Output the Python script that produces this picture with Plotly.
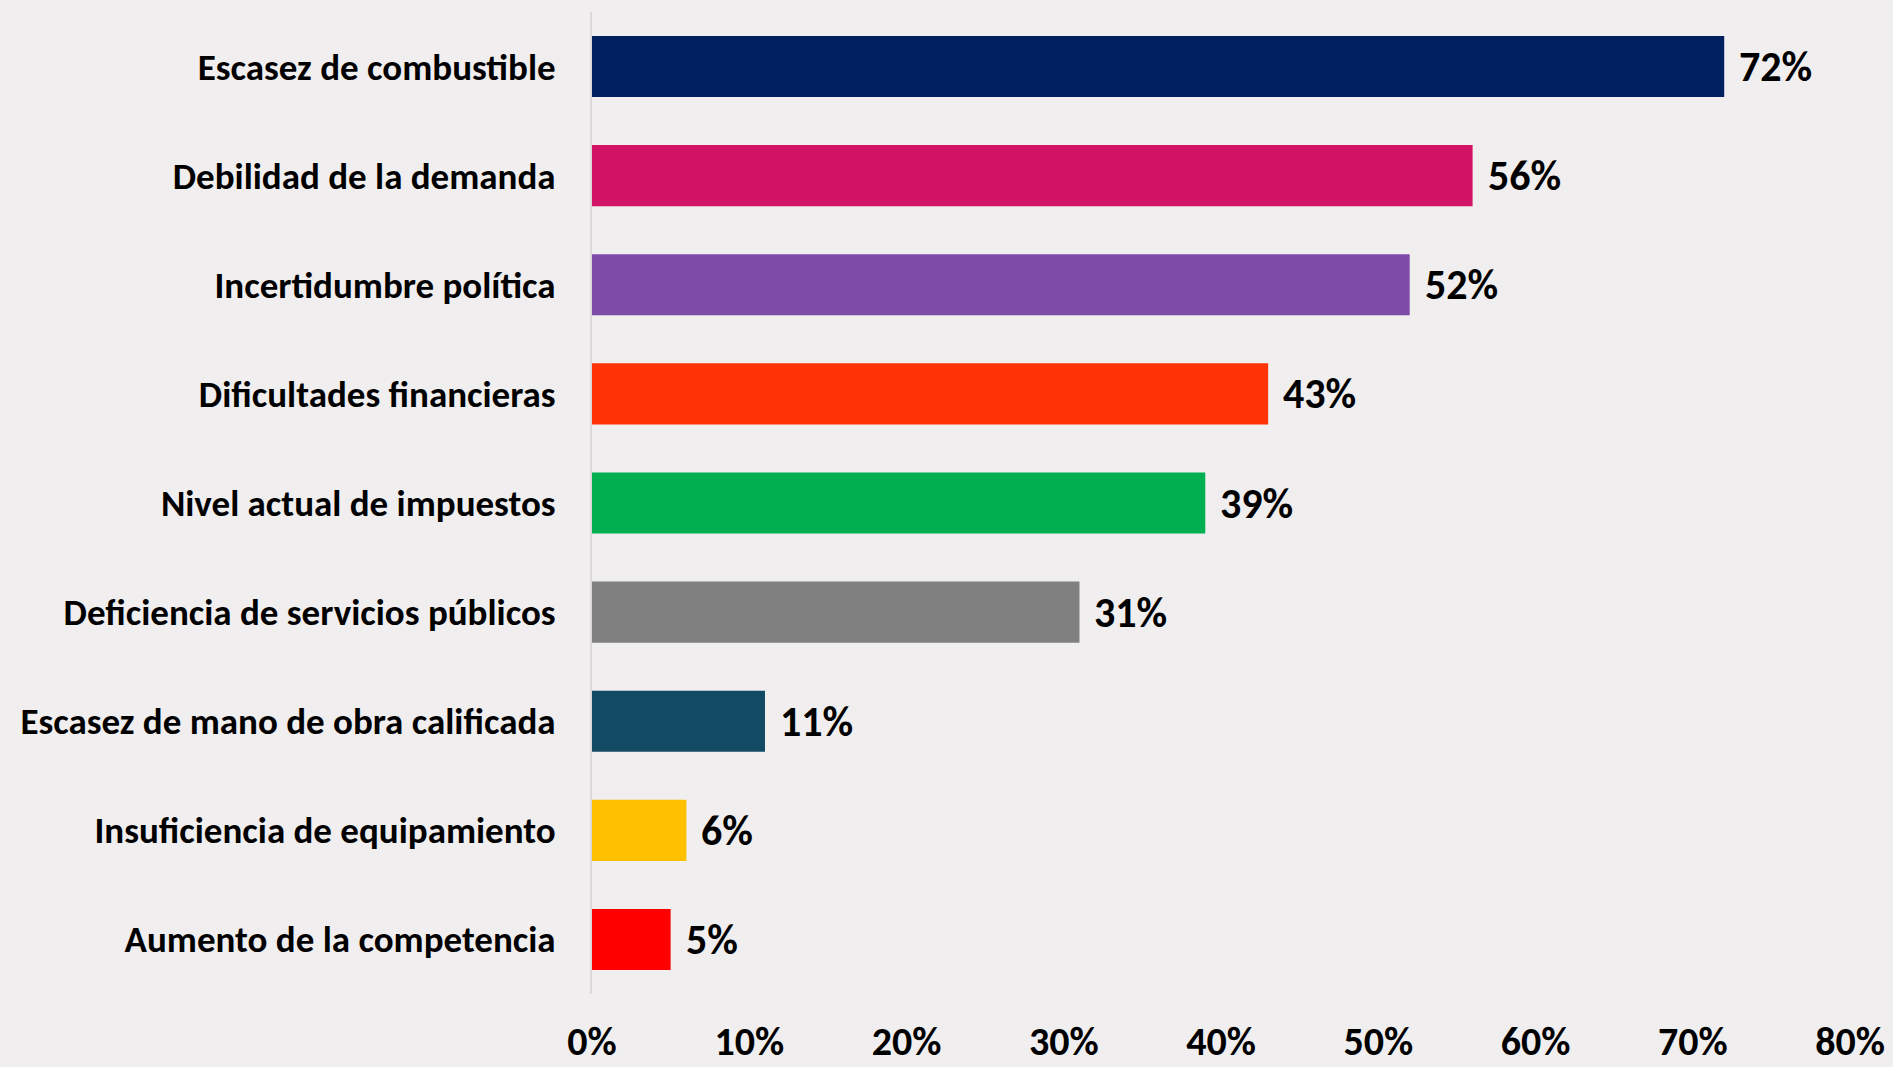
import plotly.graph_objects as go

# datos
categorias = [
    "Escasez de combustible",
    "Debilidad de la demanda",
    "Incertidumbre política",
    "Dificultades financieras",
    "Nivel actual de impuestos",
    "Deficiencia de servicios públicos",
    "Escasez de mano de obra calificada",
    "Insuficiencia de equipamiento",
    "Aumento de la competencia",
]
valores = [0.72, 0.56, 0.52, 0.43, 0.39, 0.31, 0.11, 0.06, 0.05]
colores = [
    "#002060", "#D31466", "#7E4AA8", "#FF3306", "#00B050",
    "#808080", "#124A63", "#FFC000", "#FF0000",
]
ticks_x = [0, 0.1, 0.2, 0.3, 0.4, 0.5, 0.6, 0.7, 0.8]

BG = "#F0EEEF"
FONT = "Carlito, Lato, sans-serif"

fig = go.Figure(
    go.Bar(
        x=valores,
        y=categorias,
        orientation="h",
        marker=dict(color=colores, line=dict(width=0)),
        width=0.56,
        hoverinfo="skip",
    )
)

# etiquetas de datos a la derecha de cada barra
for v, c in zip(valores, categorias):
    fig.add_annotation(
        x=v, y=c, text=f"<b>{round(v * 100)}%</b>",
        xanchor="left", yanchor="middle", xshift=13, showarrow=False,
        font=dict(family=FONT, size=42, color="#000000"),
    )

fig.update_xaxes(
    range=[0, 0.8],
    tickvals=ticks_x,
    ticktext=[f"<b>{round(t * 100)}%</b>" for t in ticks_x],
    tickfont=dict(family=FONT, size=40, color="#000000"),
    showgrid=False, zeroline=False, showline=False,
    ticks="outside", ticklen=12, tickcolor=BG,
    automargin=False,
)
fig.update_yaxes(
    autorange="reversed",
    tickfont=dict(family=FONT, size=37, color="#000000"),
    ticktext=[f"<b>{c}</b>" for c in categorias],
    tickvals=categorias,
    showgrid=False, zeroline=False,
    showline=True, linecolor="#D9D9D9", linewidth=2,
    ticks="outside", ticklen=27, tickcolor=BG,
    automargin=False,
)

fig.update_layout(
    width=1893, height=1067,
    paper_bgcolor=BG, plot_bgcolor=BG,
    margin=dict(l=592, r=43, t=12, b=73),
    showlegend=False,
    font=dict(family=FONT),
)

fig.write_html(
    "out.html",
    config={"displayModeBar": False},
    post_script="document.body.style.margin='0';",
)
